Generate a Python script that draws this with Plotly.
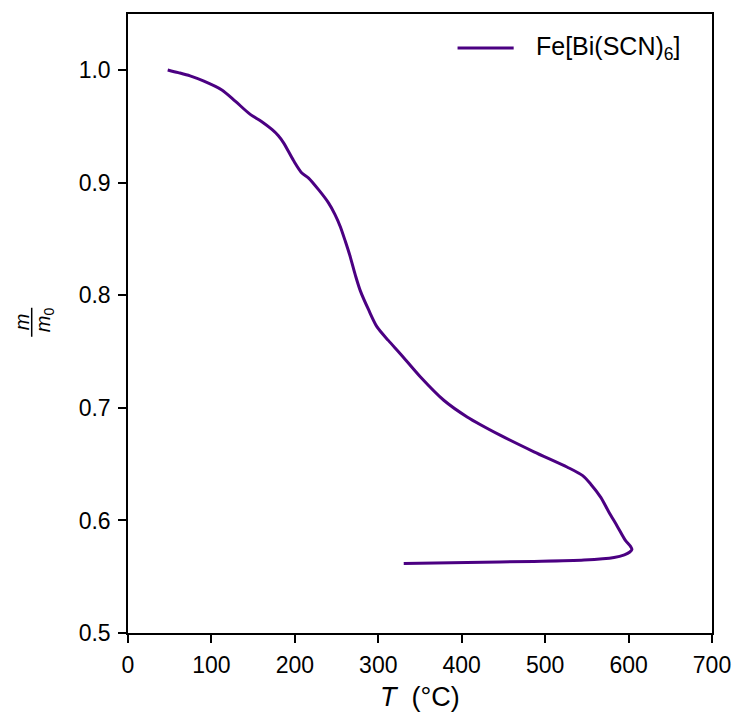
import plotly.graph_objects as go

# Temperature (°C) and normalised mass m/m0
T = [47.6, 60.3, 74.4, 90.3, 112.5, 128.5, 146.5, 160.0, 172.5, 180.0, 186.5, 198.4, 208.4,
     216.5, 228.4, 240.5, 248.0, 254.5, 260.5, 266.5, 272.5, 278.5, 288.5, 298.5, 312.0,
     326.6, 350.6, 378.5, 406.5, 446.6, 486.6, 526.7, 545.0, 554.7, 566.7, 576.0, 586.7,
     596.0, 602.7, 604.0, 601.5, 595.0, 582.6, 546.6, 486.6, 406.5, 330.5]
m_ratio = [1.0003, 0.9979, 0.995, 0.9905, 0.9825, 0.9726, 0.9608, 0.9545, 0.9474, 0.9420,
           0.9355, 0.9198, 0.9087, 0.9042, 0.8939, 0.882, 0.872, 0.861, 0.848, 0.834, 0.818,
           0.804, 0.787, 0.772, 0.760, 0.748, 0.7275, 0.7068, 0.692, 0.6756, 0.661, 0.6473,
           0.6398, 0.6322, 0.6205, 0.608, 0.5945, 0.5825, 0.5765, 0.5742, 0.5720, 0.5695,
           0.5671, 0.5648, 0.5636, 0.5627, 0.5618]
series_name = "Fe[Bi(SCN)<sub>6</sub>]"
x_title = "<i>T</i>  (°C)"
x_ticks = [0, 100, 200, 300, 400, 500, 600, 700]
y_ticks = [0.5, 0.6, 0.7, 0.8, 0.9, 1.0]

COLOR = "#4b0082"
FONT = "Liberation Sans, Arial, Helvetica, sans-serif"

fig = go.Figure()
fig.add_trace(go.Scatter(x=T, y=m_ratio, mode="lines", name=series_name,
                         line=dict(color=COLOR, width=3, shape="spline", smoothing=0.8),
                         showlegend=False))

axis_common = dict(showline=True, linecolor="black", linewidth=1.5, mirror=True,
                   ticks="outside", ticklen=8, tickwidth=1.5, tickcolor="black",
                   showgrid=False, zeroline=False, ticklabelstandoff=3, automargin=False,
                   tickfont=dict(family=FONT, size=23, color="black"))

fig.update_layout(
    width=738, height=717,
    margin=dict(l=128, r=26, t=14, b=84),
    paper_bgcolor="white", plot_bgcolor="white",
    xaxis=dict(range=[0, 700], tickvals=x_ticks, ticktext=[str(v) for v in x_ticks],
               **axis_common),
    yaxis=dict(range=[0.5, 1.05], tickvals=y_ticks, ticktext=[f"{v:.1f}" for v in y_ticks],
               **axis_common),
    showlegend=False,
)

# x-axis title
fig.add_annotation(xref="paper", yref="paper", x=0.5, y=-0.1034, text=x_title,
                   showarrow=False, xanchor="center", yanchor="middle",
                   font=dict(family=FONT, size=27, color="black"))

# legend (drawn manually to match line sample length)
fig.add_shape(type="line", xref="paper", yref="paper", x0=0.5643, x1=0.6604, y0=0.945, y1=0.945,
              line=dict(color=COLOR, width=3))
fig.add_annotation(xref="paper", yref="paper", x=0.696, y=0.945, text=series_name,
                   showarrow=False, xanchor="left", yanchor="middle",
                   font=dict(family=FONT, size=25, color="black"))

# y-axis label as a rotated fraction m / m0
fig.add_annotation(xref="paper", yref="paper", x=0, y=0.502, xshift=-106, text="<i>m</i>",
                   showarrow=False, textangle=-90, xanchor="center", yanchor="middle",
                   font=dict(family=FONT, size=20, color="black"))
fig.add_annotation(xref="paper", yref="paper", x=0, y=0.502, xshift=-84, yshift=2,
                   text="<i>m</i><sub>0</sub>",
                   showarrow=False, textangle=-90, xanchor="center", yanchor="middle",
                   font=dict(family=FONT, size=20, color="black"))
fig.add_shape(type="line", xref="paper", yref="paper", xsizemode="pixel", ysizemode="pixel",
              xanchor=0, yanchor=0.502, x0=-96.3, x1=-96.3, y0=-14.5, y1=14.5,
              line=dict(color="black", width=1.5))

fig.write_html("out.html")
